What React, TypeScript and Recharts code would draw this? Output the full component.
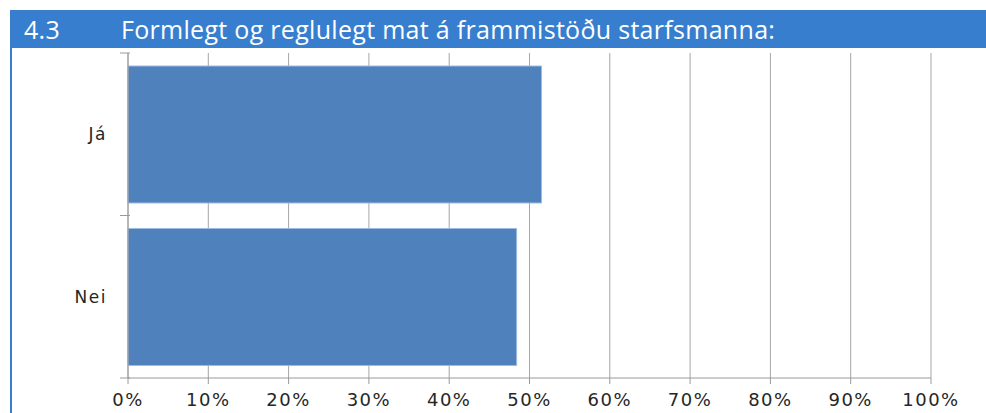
import { Bar, BarChart, CartesianGrid, XAxis, YAxis } from 'recharts';

const categories = ['Já', 'Nei'];
const shares = [0.515, 0.484];
const xTicks = [0, 0.1, 0.2, 0.3, 0.4, 0.5, 0.6, 0.7, 0.8, 0.9, 1];

const data = categories.map((name, i) => ({ name, value: shares[i] }));

const titleFont = '"Open Sans", sans-serif';
const axisFont = '"DejaVu Sans", sans-serif';
const PLOT_HEIGHT = 325;
const band = PLOT_HEIGHT / categories.length;

function CategoryTick(props: any) {
  const { x, y, payload, index } = props;
  const axisX = x + 10;
  return (
    <g>
      <line x1={axisX - 10} x2={axisX} y1={y - band / 2} y2={y - band / 2} stroke="#9a9a9a" />
      {index === categories.length - 1 && (
        <line x1={axisX - 10} x2={axisX} y1={y + band / 2} y2={y + band / 2} stroke="#9a9a9a" />
      )}
      <text
        x={axisX - 23}
        y={y}
        dy="0.35em"
        textAnchor="end"
        fill="#262626"
        fontSize={17}
        letterSpacing={1.5}
        fontFamily={axisFont}
      >
        {payload.value}
      </text>
    </g>
  );
}

export default function App() {
  return (
    <div style={{ position: 'absolute', left: 0, top: 0, width: 986, height: 413, background: '#fff', overflow: 'hidden' }}>
      <div
        style={{
          position: 'absolute',
          left: 10,
          top: 10,
          width: 976,
          height: 38,
          background: '#387ecf',
          color: '#fff',
          fontFamily: titleFont,
          fontSize: 25,
          letterSpacing: 0.3,
          lineHeight: '38px',
          whiteSpace: 'nowrap',
        }}
      >
        <span style={{ position: 'absolute', left: 14 }}>4.3</span>
        <span style={{ position: 'absolute', left: 111 }}>Formlegt og reglulegt mat á frammistöðu starfsmanna:</span>
      </div>
      <div style={{ position: 'absolute', left: 10, top: 48, width: 2, height: 365, background: '#387ecf' }} />
      <div style={{ position: 'absolute', left: 0, top: 48 }}>
        <BarChart
          width={986}
          height={365}
          data={data}
          layout="vertical"
          margin={{ top: 5, right: 55, left: 0, bottom: 5 }}
          barCategoryGap="8%"
        >
          <CartesianGrid horizontal={false} stroke="#a6a6a6" />
          <XAxis
            type="number"
            domain={[0, 1]}
            ticks={xTicks}
            interval={0}
            tickFormatter={(v) => `${Math.round(v * 100)}%`}
            tickSize={6}
            tickMargin={9}
            height={30}
            stroke="#9a9a9a"
            tick={{ fill: '#262626', fontSize: 18, fontFamily: axisFont, letterSpacing: 1.5 }}
          />
          <YAxis
            type="category"
            dataKey="name"
            width={128}
            tickLine={false}
            stroke="#9a9a9a"
            tick={<CategoryTick />}
          />
          <Bar dataKey="value" fill="#4f81bd" stroke="#9fbbe0" strokeWidth={1} isAnimationActive={false} />
        </BarChart>
      </div>
    </div>
  );
}
